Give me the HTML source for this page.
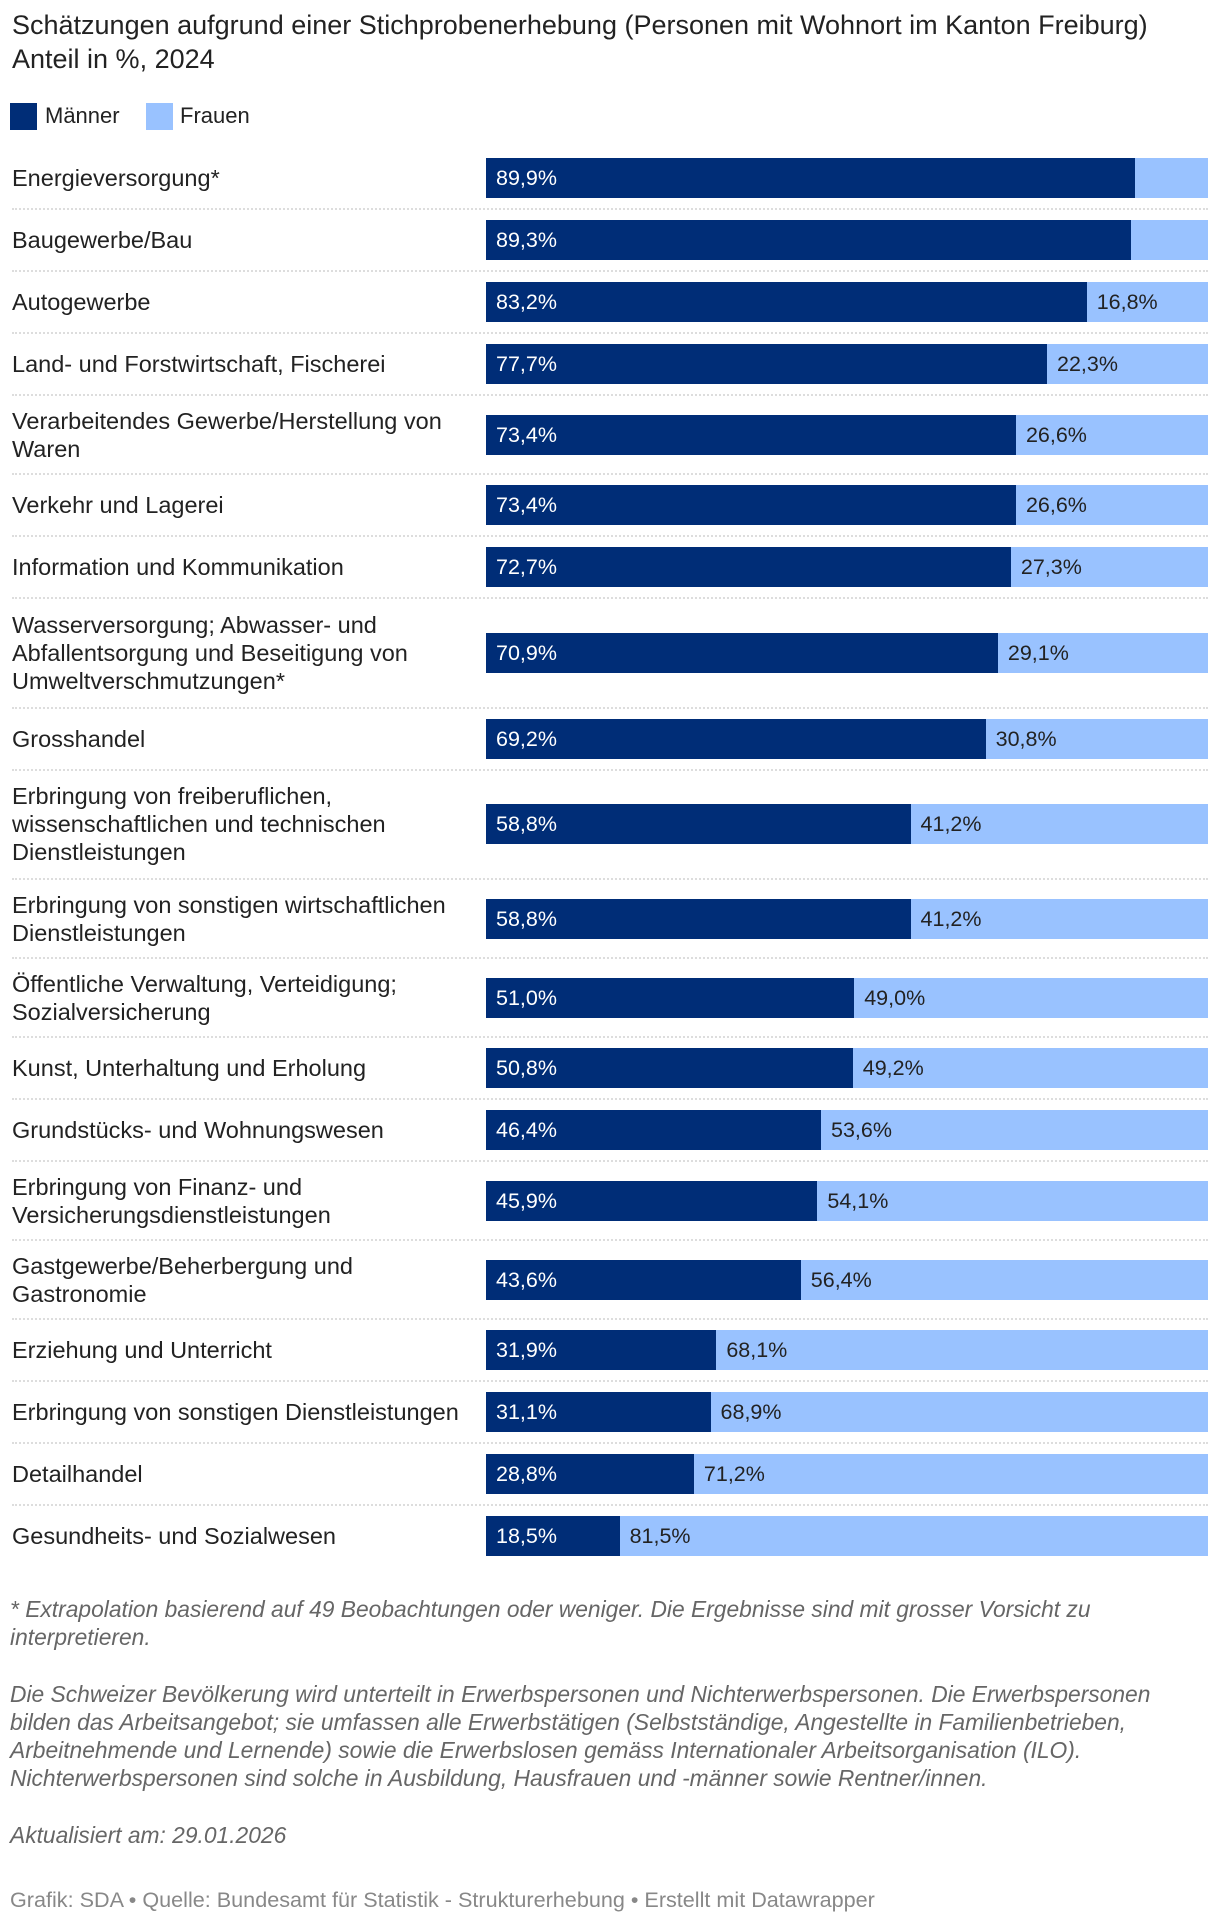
<!DOCTYPE html>
<html><head><meta charset="utf-8">
<style>
body{margin:0;background:#fff;font-family:"Liberation Sans",sans-serif;color:#222;}
#root{position:relative;width:1220px;height:1922px;overflow:hidden;}
.t{position:absolute;left:12px;font-size:27px;line-height:32px;white-space:nowrap;}
.leg{position:absolute;top:103px;height:27px;width:27px;}
.legt{position:absolute;top:102px;font-size:22px;line-height:28px;}
.lab{position:absolute;left:12px;width:470px;font-size:23.5px;line-height:28px;display:flex;align-items:center;white-space:nowrap;}
.bar{position:absolute;height:40px;}
.val{position:absolute;font-size:21.5px;line-height:40px;white-space:nowrap;}
.sep{position:absolute;left:12px;width:1196px;border-top:2px dotted #ddd;height:0;}
.foot{position:absolute;left:10px;font-size:22.8px;line-height:28px;color:#666;font-style:italic;white-space:nowrap;}
</style></head><body>
<div id="root">
<div class="t" style="top:9px">Schätzungen aufgrund einer Stichprobenerhebung (Personen mit Wohnort im Kanton Freiburg)</div>
<div class="t" style="top:43px">Anteil in %, 2024</div>
<div class="leg" style="left:10px;background:#002d77"></div>
<div class="legt" style="left:45px">Männer</div>
<div class="leg" style="left:146px;background:#99c2ff"></div>
<div class="legt" style="left:180px">Frauen</div>
<div id="plot"></div>
<div class="foot" style="top:1595px">* Extrapolation basierend auf 49 Beobachtungen oder weniger. Die Ergebnisse sind mit grosser Vorsicht zu<br>interpretieren.</div>
<div class="foot" style="top:1680px">Die Schweizer Bevölkerung wird unterteilt in Erwerbspersonen und Nichterwerbspersonen. Die Erwerbspersonen<br>bilden das Arbeitsangebot; sie umfassen alle Erwerbstätigen (Selbstständige, Angestellte in Familienbetrieben,<br>Arbeitnehmende und Lernende) sowie die Erwerbslosen gemäss Internationaler Arbeitsorganisation (ILO).<br>Nichterwerbspersonen sind solche in Ausbildung, Hausfrauen und -männer sowie Rentner/innen.</div>
<div class="foot" style="top:1821px">Aktualisiert am: 29.01.2026</div>
<div class="foot" style="top:1886px;font-style:normal;color:#888;font-size:21.6px">Grafik: SDA • Quelle: Bundesamt für Statistik - Strukturerhebung • Erstellt mit Datawrapper</div>
</div>
<script>
const categories=["Energieversorgung*","Baugewerbe/Bau","Autogewerbe","Land- und Forstwirtschaft, Fischerei","Verarbeitendes Gewerbe/Herstellung von<br>Waren","Verkehr und Lagerei","Information und Kommunikation","Wasserversorgung; Abwasser- und<br>Abfallentsorgung und Beseitigung von<br>Umweltverschmutzungen*","Grosshandel","Erbringung von freiberuflichen,<br>wissenschaftlichen und technischen<br>Dienstleistungen","Erbringung von sonstigen wirtschaftlichen<br>Dienstleistungen","Öffentliche Verwaltung, Verteidigung;<br>Sozialversicherung","Kunst, Unterhaltung und Erholung","Grundstücks- und Wohnungswesen","Erbringung von Finanz- und<br>Versicherungsdienstleistungen","Gastgewerbe/Beherbergung und<br>Gastronomie","Erziehung und Unterricht","Erbringung von sonstigen Dienstleistungen","Detailhandel","Gesundheits- und Sozialwesen"];
const maenner=[89.9,89.3,83.2,77.7,73.4,73.4,72.7,70.9,69.2,58.8,58.8,51.0,50.8,46.4,45.9,43.6,31.9,31.1,28.8,18.5];
const frauen=[10.1,10.7,16.8,22.3,26.6,26.6,27.3,29.1,30.8,41.2,41.2,49.0,49.2,53.6,54.1,56.4,68.1,68.9,71.2,81.5];
const X0=486,X1=1208;
function x(v){return X0+(X1-X0)*v/100;}
function fmt(v){return v.toFixed(1).replace('.',',')+'%';}
const plot=document.getElementById('plot');
let rowTop=147;
categories.forEach((c,i)=>{
  const lines=c.split('<br>').length;
  const h=lines===1?62:lines===2?79:109.5;
  const lab=document.createElement('div');
  lab.className='lab';lab.style.top=rowTop+'px';lab.style.height=h+'px';
  lab.innerHTML='<span>'+c+'</span>';
  
  
  plot.appendChild(lab);
  const by=rowTop+(h-40)/2;
  const m=document.createElement('div');
  m.className='bar';m.style.top=by+'px';m.style.left=x(0)+'px';m.style.width=(x(maenner[i])-x(0))+'px';m.style.background='#002d77';
  
  
  plot.appendChild(m);
  const f=document.createElement('div');
  f.className='bar';f.style.top=by+'px';f.style.left=x(maenner[i])+'px';f.style.width=(x(maenner[i]+frauen[i])-x(maenner[i]))+'px';f.style.background='#99c2ff';
  
  
  plot.appendChild(f);
  const mv=document.createElement('div');
  mv.className='val';mv.style.top=by+'px';mv.style.left=(x(0)+10)+'px';mv.style.color='#fff';mv.textContent=fmt(maenner[i]);
  
  
  plot.appendChild(mv);
  if(frauen[i]>14){
    const fv=document.createElement('div');
    fv.className='val';fv.style.top=by+'px';fv.style.left=(x(maenner[i])+10)+'px';fv.style.color='#222';fv.textContent=fmt(frauen[i]);
    
    
    plot.appendChild(fv);
  }
  rowTop+=h;
  if(i<categories.length-1){
    const s=document.createElement('div');
    s.className='sep';s.style.top=(rowTop-1)+'px';
    
    
    plot.appendChild(s);
  }
});
</script>
</body></html>
